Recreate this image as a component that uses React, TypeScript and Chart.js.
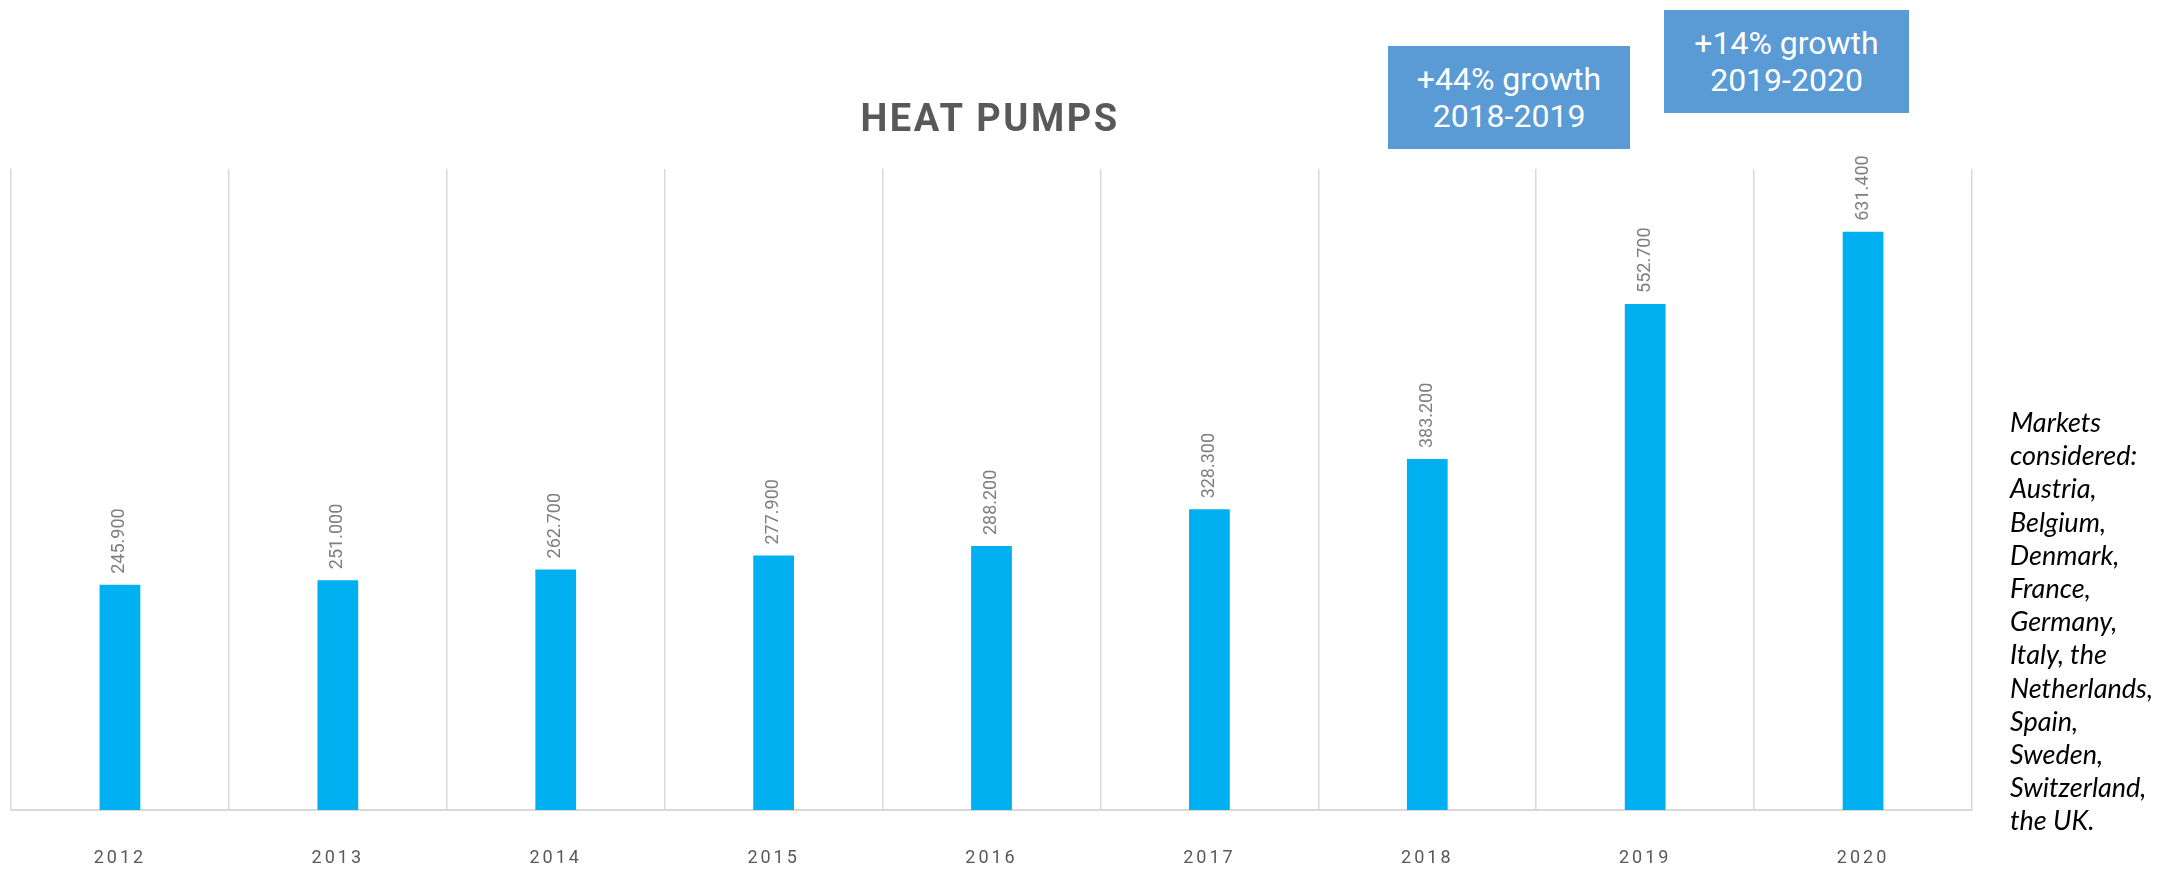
import React, { useEffect, useRef } from 'react';
import { Chart, registerables } from 'chart.js';

Chart.register(...registerables);

// ---- data ----
const years = ['2012', '2013', '2014', '2015', '2016', '2017', '2018', '2019', '2020'];
const heatPumpSales = [245900, 251000, 262700, 277900, 288200, 328300, 383200, 552700, 631400];
const yAxisMax = 700000;
const chartTitle = 'HEAT PUMPS';
const growthNote1 = ['+44% growth', '2018-2019'];
const growthNote2 = ['+14% growth', '2019-2020'];
const marketLines = [
  'Markets',
  'considered:',
  'Austria,',
  'Belgium,',
  'Denmark,',
  'France,',
  'Germany,',
  'Italy, the',
  'Netherlands,',
  'Spain,',
  'Sweden,',
  'Switzerland,',
  'the UK.',
];

function formatThousands(v: number): string {
  return String(v).replace(/\B(?=(\d{3})+(?!\d))/g, '.');
}

const letterSpacingPlugin = {
  id: 'tickLetterSpacing',
  beforeDraw(chart: any) {
    chart.ctx.letterSpacing = '3px';
  },
  afterDraw(chart: any) {
    chart.ctx.letterSpacing = '0px';
  },
};

const barValueLabels = {
  id: 'barValueLabels',
  afterDatasetsDraw(chart: any) {
    const ctx = chart.ctx;
    const meta = chart.getDatasetMeta(0);
    const data = chart.data.datasets[0].data as number[];
    meta.data.forEach((bar: any, i: number) => {
      ctx.save();
      ctx.letterSpacing = '0px';
      ctx.translate(bar.x, bar.y - 11);
      ctx.rotate(-Math.PI / 2);
      ctx.font = '18px Roboto';
      ctx.fillStyle = '#7f7f7f';
      ctx.textAlign = 'left';
      ctx.textBaseline = 'middle';
      ctx.fillText(formatThousands(data[i]), 0, 0);
      ctx.restore();
    });
  },
};

export default function App() {
  const canvasRef = useRef<HTMLCanvasElement | null>(null);

  useEffect(() => {
    if (!canvasRef.current) return;
    const chart = new Chart(canvasRef.current, {
      type: 'bar',
      data: {
        labels: years,
        datasets: [
          {
            data: heatPumpSales,
            backgroundColor: '#00b0f0',
            borderWidth: 0,
            barPercentage: 0.187,
            categoryPercentage: 1,
          },
        ],
      },
      options: {
        responsive: false,
        animation: false,
        layout: { padding: { left: 11, right: 198, top: 169, bottom: 0 } },
        plugins: {
          legend: { display: false },
          title: { display: false },
          tooltip: { enabled: false },
        },
        scales: {
          x: {
            grid: {
              display: true,
              color: '#d9d9d9',
              lineWidth: 1.5,
              drawTicks: false,
              offset: true,
            },
            border: { display: true, color: '#d9d9d9', width: 2 },
            ticks: {
              color: '#595959',
              font: { family: 'Roboto', size: 18 },
              padding: 38,
              maxRotation: 0,
            },
            afterFit: (scale: any) => {
              scale.height = 59;
            },
          },
          y: {
            display: false,
            min: 0,
            max: yAxisMax,
          },
        },
      },
      plugins: [letterSpacingPlugin, barValueLabels],
    });
    return () => chart.destroy();
  }, []);

  const boxStyle: React.CSSProperties = {
    position: 'absolute',
    background: '#5b9bd5',
    color: '#ffffff',
    fontFamily: 'Roboto',
    fontSize: 32,
    lineHeight: '37px',
    display: 'flex',
    flexDirection: 'column',
    alignItems: 'center',
    justifyContent: 'center',
    textAlign: 'center',
  };

  return (
    <div style={{ position: 'absolute', left: 0, top: 0, width: 2170, height: 869, background: '#ffffff', overflow: 'hidden' }}>
      <canvas ref={canvasRef} width={2170} height={869} style={{ position: 'absolute', left: 0, top: 0, width: 2170, height: 869 }} />
      <div
        style={{
          position: 'absolute',
          left: 790,
          width: 400,
          top: 99,
          textAlign: 'center',
          fontFamily: 'Roboto',
          fontWeight: 700,
          fontSize: 38,
          lineHeight: '38px',
          letterSpacing: '2.5px',
          color: '#595959',
        }}
      >
        {chartTitle}
      </div>
      <div style={{ ...boxStyle, left: 1388, top: 46, width: 242, height: 103 }}>
        <div>{growthNote1[0]}</div>
        <div>{growthNote1[1]}</div>
      </div>
      <div style={{ ...boxStyle, left: 1664, top: 10, width: 245, height: 103 }}>
        <div>{growthNote2[0]}</div>
        <div>{growthNote2[1]}</div>
      </div>
      <div
        style={{
          position: 'absolute',
          left: 2010,
          top: 405,
          fontFamily: 'Lato',
          fontStyle: 'italic',
          fontSize: 27,
          lineHeight: '33.2px',
          color: '#000000',
          whiteSpace: 'nowrap',
        }}
      >
        {marketLines.map((l, i) => (
          <div key={i}>{l}</div>
        ))}
      </div>
    </div>
  );
}
